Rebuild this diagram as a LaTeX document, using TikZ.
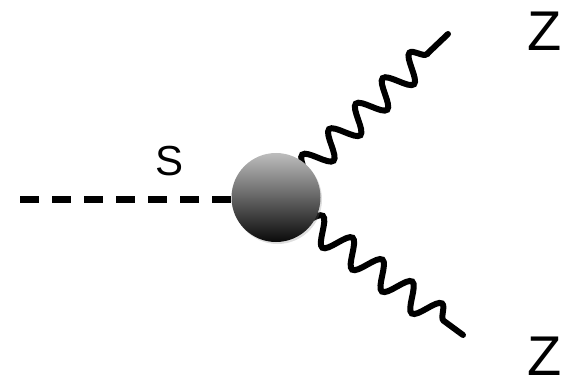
\documentclass[tikz,border=0pt]{standalone}
\usepackage{fontspec}
\setmainfont{Liberation Sans}
\usetikzlibrary{decorations.pathmorphing, shadows}
\definecolor{mBlobTop}{HTML}{BDBDBD}
\definecolor{mBlobBot}{HTML}{0A0A0A}

\begin{document}
\begin{tikzpicture}[x=1pt, y=-1pt,
      blob/.style={circle, minimum size=89pt, inner sep=0pt,
                   shading=axis, top color=mBlobTop, bottom color=mBlobBot,
                   drop shadow={opacity=0.25, shadow xshift=1.5pt, shadow yshift=-2pt}},
      scalar/.style={line width=7pt, dash pattern=on 19pt off 13pt},
      boson/.style={line width=6pt, line cap=round, decorate,
                    decoration={snake, segment length=37pt, amplitude=13pt,
                                post length=16pt}},
      lbl/.style={inner sep=0pt, font=\fontsize{#1}{#1}\selectfont}]
    \useasboundingbox (0,0) rectangle (564,390);
    \coordinate (s0) at (20,199.5);
    \coordinate (z1) at (448,34);
    \coordinate (z2) at (463,335);
    \draw[boson] (276,197.5) -- (z1);
    \draw[boson] (276,197.5) -- (z2);
    \node[blob] (v) at (276,197.5) {};
    \draw[scalar] (s0) -- (v.west |- s0);
    \node[lbl=42] (s)  at (169.5,161.5) {S};
    \node[lbl=56] (za) at (545,31)  {Z};
    \node[lbl=56] (zb) at (545,356) {Z};
  \end{tikzpicture}
\end{document}
